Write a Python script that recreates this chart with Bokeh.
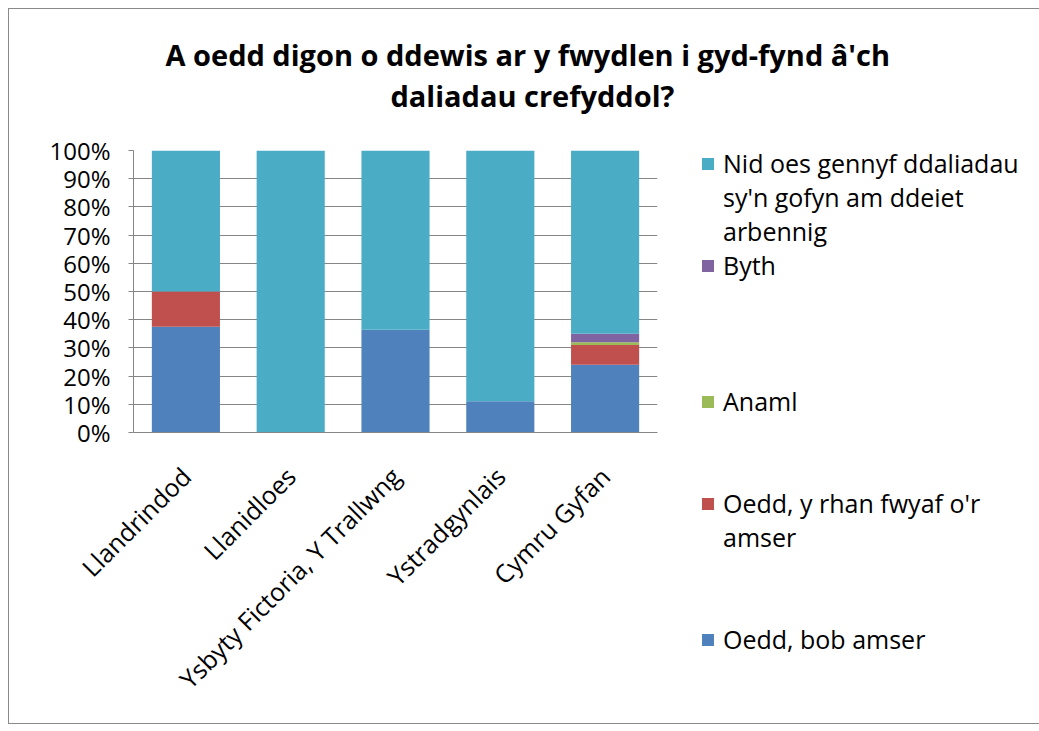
from bokeh.plotting import figure
from bokeh.models import Title, Legend, LegendItem, NumeralTickFormatter, FixedTicker, ColumnDataSource
from bokeh.embed import file_html
from bokeh.resources import INLINE
import math

categories = ["Llandrindod", "Llanidloes", "Ysbyty Fictoria, Y Trallwng", "Ystradgynlais", "Cymru Gyfan"]
bob_amser = [37.5, 0, 36.4, 11.1, 24.0]
rhan_fwyaf = [12.5, 0, 0, 0, 7.0]
anaml = [0, 0, 0, 0, 1.0]
byth = [0, 0, 0, 0, 3.0]
dim_daliadau = [50.0, 100.0, 63.6, 88.9, 65.0]

series_keys = ["bob", "rhan", "anaml", "byth", "dim"]
series_labels = [["Oedd, bob amser"], ["Oedd, y rhan fwyaf o'r", "amser"], ["Anaml"], ["Byth"],
                 ["Nid oes gennyf ddaliadau", "sy'n gofyn am ddeiet", "arbennig"]]
colors = ["#4F81BD", "#C0504D", "#9BBB59", "#8064A2", "#4BACC6"]
title_lines = ["A oedd digon o ddewis ar y fwydlen i gyd-fynd â'ch", "daliadau crefyddol?"]

data = {"cat": categories}
for k, vals in zip(series_keys, [bob_amser, rhan_fwyaf, anaml, byth, dim_daliadau]):
    data[k] = [v / 100.0 for v in vals]
src = ColumnDataSource(data)

FONT = "Open Sans"
GRID = "#868686"

p = figure(x_range=categories, y_range=(0, 1), width=1022, height=714,
           frame_width=524, frame_height=282, title_location=None,
           min_border_left=124, min_border_right=374, min_border_top=141, min_border_bottom=291,
           output_backend="svg", toolbar_location=None,
           styles={"border": "1px solid #8a8a8a"}, margin=(8, 0, 0, 8))
p.outline_line_color = None

renderers = p.vbar_stack(series_keys, x="cat", width=0.65, source=src, color=colors, line_color=None)

p.yaxis.ticker = FixedTicker(ticks=[i / 10 for i in range(11)])
p.yaxis.formatter = NumeralTickFormatter(format="0%")
p.yaxis.major_label_text_font = FONT
p.yaxis.major_label_text_font_size = "24px"
p.yaxis.major_label_text_color = "black"
p.yaxis.axis_line_color = GRID
p.yaxis.major_tick_line_color = GRID
p.yaxis.major_tick_out = 5
p.yaxis.major_tick_in = 0
p.yaxis.major_label_standoff = 18
p.yaxis.minor_tick_line_color = None

p.xaxis.major_label_orientation = math.pi / 4
p.xaxis.major_label_text_font = FONT
p.xaxis.major_label_text_font_size = "25px"
p.xaxis.major_label_text_color = "black"
p.xaxis.axis_line_color = GRID
p.xaxis.major_tick_line_color = None
p.xaxis.major_label_standoff = 33

p.xgrid.grid_line_color = None
p.ygrid.grid_line_color = GRID

# title block: spacer next to the chart, then line 2, then line 1
p.add_layout(Title(text=" ", text_font_size="2px", standoff=32), "above")
p.add_layout(Title(text=title_lines[1], align="left", offset=257, standoff=0,
                   text_font=FONT, text_font_size="29px", text_font_style="bold",
                   text_color="black"), "above")
p.add_layout(Title(text=title_lines[0], align="left", offset=32, standoff=0,
                   text_font=FONT, text_font_size="29px", text_font_style="bold",
                   text_color="black"), "above")

# legend: one row per text line, top to bottom
blank = p.vbar(x=[], top=[], width=0.1, fill_alpha=0, line_alpha=0)
rows = []
order = [4, 3, None, None, None, 2, None, None, 1, None, None, 0]
for idx in order:
    if idx is None:
        rows.append(LegendItem(label=" ", renderers=[blank]))
        continue
    lines = series_labels[idx]
    rows.append(LegendItem(label=lines[0], renderers=[renderers[idx]]))
    for extra in lines[1:]:
        rows.append(LegendItem(label=extra, renderers=[blank]))

legend = Legend(items=rows, location=(43, -224), orientation="vertical",
                padding=0, margin=0, spacing=0, border_line_color=None, background_fill_alpha=0,
                glyph_width=15, glyph_height=15, label_height=34, label_standoff=8,
                label_text_font=FONT, label_text_font_size="25px", label_text_color="black")
p.add_layout(legend, "right")

open("out.html", "w").write(file_html(p, INLINE))
